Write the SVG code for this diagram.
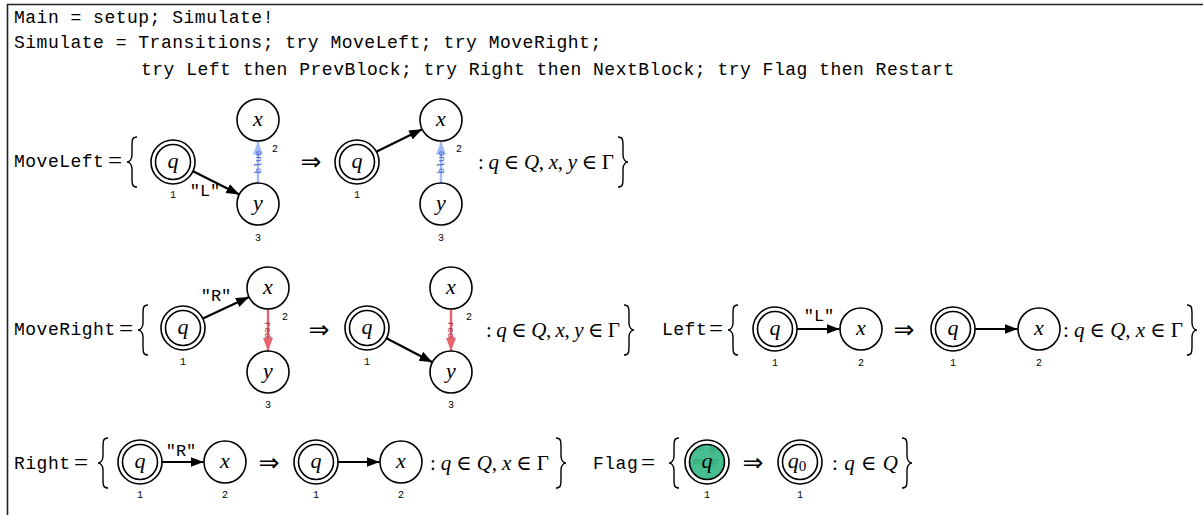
<svg xmlns="http://www.w3.org/2000/svg" width="1203" height="515" viewBox="0 0 1203 515">
<style>
.mono{font-family:"Liberation Mono",monospace;font-size:18px;letter-spacing:0.5px;fill:#000}
.math{font-family:"Liberation Serif","DejaVu Serif",serif;font-size:21px;fill:#000}
.eq{font-family:"Liberation Serif",serif;font-size:25px;fill:#000}
.it{font-style:italic}
.arr{font-family:"DejaVu Sans",sans-serif;font-size:25px;text-anchor:middle}
.nl{font-family:"Liberation Serif",serif;font-style:italic;font-size:22px;text-anchor:middle}
.idx{font-family:"Liberation Mono",monospace;font-size:10px;text-anchor:middle}
.node{fill:#fff;stroke:#000;stroke-width:1.6}
.edge{stroke:#000;stroke-width:2.2;fill:none;marker-end:url(#ah)}
.blue{stroke:#9dbcf8;stroke-width:2.4;fill:none;marker-end:url(#ahb)}
.red{stroke:#e8646f;stroke-width:2.4;fill:none;marker-end:url(#ahr)}
.brace{fill:none;stroke:#000;stroke-width:1.4}
.elab{font-family:"Liberation Mono",monospace;font-size:17px;text-anchor:middle}
.bl{font-family:"Liberation Mono",monospace;font-size:9.5px;fill:#4a62d0;text-anchor:middle}
.rl{font-family:"Liberation Mono",monospace;font-size:9.5px;fill:#a8303e;text-anchor:middle}
</style>
<defs>
<marker id="ah" markerUnits="userSpaceOnUse" markerWidth="14" markerHeight="12" refX="13" refY="5" orient="auto"><path d="M0,0 L13,5 L0,10 z" fill="#000"/></marker>
<marker id="ahb" markerUnits="userSpaceOnUse" markerWidth="14" markerHeight="12" refX="13" refY="5" orient="auto"><path d="M0,0 L13,5 L0,10 z" fill="#9dbcf8"/></marker>
<marker id="ahr" markerUnits="userSpaceOnUse" markerWidth="14" markerHeight="12" refX="13" refY="5" orient="auto"><path d="M0,0 L13,5 L0,10 z" fill="#e8646f"/></marker>
<path id="lb" class="brace" d="M10,-25 C5,-25 5,-22 5,-15 L5,-7 C5,-2 2,0 0,0 C2,0 5,2 5,7 L5,15 C5,22 5,25 10,25"/>
<path id="rb" class="brace" d="M-10,-25 C-5,-25 -5,-22 -5,-15 L-5,-7 C-5,-2 -2,0 0,0 C-2,0 -5,2 -5,7 L-5,15 C-5,22 -5,25 -10,25"/>
<clipPath id="gclip"><circle cx="707" cy="462" r="17"/></clipPath>
</defs>
<rect width="1203" height="515" fill="#fff"/>
<path d="M7.5,515 L7.5,4.5 L1203,4.5" fill="none" stroke="#222" stroke-width="1.6"/>

<g id="program">
<text class="mono" x="14" y="23">Main = setup; Simulate!</text>
<text class="mono" x="14" y="48">Simulate = Transitions; try MoveLeft; try MoveRight;</text>
<text class="mono" x="141" y="75">try Left then PrevBlock; try Right then NextBlock; try Flag then Restart</text>
</g>

<g id="connectors">
<path class="edge" d="M192.6,170.9 L239.3,194.5"/>
<path class="blue" d="M258,183 L258,141.5"/>
<path class="edge" d="M376.8,151.4 L422.1,129.2"/>
<path class="blue" d="M441,183 L441,141.5"/>
<path class="edge" d="M202.9,318.6 L249,296.9"/>
<path class="red" d="M268,309 L268,351"/>
<path class="edge" d="M386.5,338.2 L432.4,362.3"/>
<path class="red" d="M451,309 L451,351"/>
<path class="edge" d="M797,329 L839.5,329"/>
<path class="edge" d="M975,329 L1017.5,329"/>
<path class="edge" d="M162,462 L203.5,462"/>
<path class="edge" d="M338,462 L379.5,462"/>
<text class="elab" x="205" y="196">"L"</text>
<text class="elab" x="216" y="301">"R"</text>
<text class="elab" x="819" y="321">"L"</text>
<text class="elab" x="181" y="456">"R"</text>
<text class="bl" transform="translate(261,162) rotate(-90)">blue</text>
<text class="bl" transform="translate(444,162) rotate(-90)">blue</text>
<text class="rl" transform="translate(265,330) rotate(90)">red</text>
<text class="rl" transform="translate(448,330) rotate(90)">red</text>
</g>

<!-- MoveLeft -->
<g id="moveleft-rule">
<text class="mono" x="14" y="167">MoveLeft</text>
<text class="eq" x="108" y="169">=</text>
<use href="#lb" x="127" y="162"/>
<text class="arr" x="311" y="170">⇒</text>
<text class="math" x="478" y="169" textLength="136" lengthAdjust="spacing">: <tspan class="it">q</tspan> ∈ <tspan class="it">Q</tspan>, <tspan class="it">x</tspan>, <tspan class="it">y</tspan> ∈ Γ</text>
<use href="#rb" x="628" y="162"/>
</g>
<g id="ml-l-q"><circle class="node" cx="173" cy="162" r="22"/><circle class="node" cx="173" cy="162" r="17.5"/><text class="nl" x="173" y="168">q</text><text class="idx" x="173" y="198">1</text></g>
<g id="ml-l-x"><circle class="node" cx="258" cy="120" r="21"/><text class="nl" x="258" y="126">x</text><text class="idx" x="275" y="152">2</text></g>
<g id="ml-l-y"><circle class="node" cx="258" cy="204" r="21"/><text class="nl" x="258" y="210">y</text><text class="idx" x="258" y="241">3</text></g>
<g id="ml-r-q"><circle class="node" cx="357" cy="162" r="22"/><circle class="node" cx="357" cy="162" r="17.5"/><text class="nl" x="357" y="168">q</text><text class="idx" x="357" y="198">1</text></g>
<g id="ml-r-x"><circle class="node" cx="441" cy="120" r="21"/><text class="nl" x="441" y="126">x</text><text class="idx" x="459" y="152">2</text></g>
<g id="ml-r-y"><circle class="node" cx="441" cy="204" r="21"/><text class="nl" x="441" y="210">y</text><text class="idx" x="441" y="241">3</text></g>

<!-- MoveRight -->
<g id="moveright-rule">
<text class="mono" x="14" y="335">MoveRight</text>
<text class="eq" x="119" y="337">=</text>
<use href="#lb" x="138" y="330"/>
<text class="arr" x="319" y="338">⇒</text>
<text class="math" x="486" y="337" textLength="134" lengthAdjust="spacing">: <tspan class="it">q</tspan> ∈ <tspan class="it">Q</tspan>, <tspan class="it">x</tspan>, <tspan class="it">y</tspan> ∈ Γ</text>
<use href="#rb" x="634" y="330"/>
</g>
<g id="mr-l-q"><circle class="node" cx="183" cy="328" r="22"/><circle class="node" cx="183" cy="328" r="17.5"/><text class="nl" x="183" y="334">q</text><text class="idx" x="183" y="365">1</text></g>
<g id="mr-l-x"><circle class="node" cx="268" cy="288" r="21"/><text class="nl" x="268" y="294">x</text><text class="idx" x="285" y="320">2</text></g>
<g id="mr-l-y"><circle class="node" cx="268" cy="372" r="21"/><text class="nl" x="268" y="378">y</text><text class="idx" x="268" y="408">3</text></g>
<g id="mr-r-q"><circle class="node" cx="367" cy="328" r="22"/><circle class="node" cx="367" cy="328" r="17.5"/><text class="nl" x="367" y="334">q</text><text class="idx" x="367" y="365">1</text></g>
<g id="mr-r-x"><circle class="node" cx="451" cy="288" r="21"/><text class="nl" x="451" y="294">x</text><text class="idx" x="469" y="320">2</text></g>
<g id="mr-r-y"><circle class="node" cx="451" cy="372" r="21"/><text class="nl" x="451" y="378">y</text><text class="idx" x="451" y="408">3</text></g>

<!-- Left -->
<g id="left-rule">
<text class="mono" x="662" y="335">Left</text>
<text class="eq" x="709" y="337">=</text>
<use href="#lb" x="728" y="330"/>
<text class="arr" x="904" y="338">⇒</text>
<text class="math" x="1063" y="337" textLength="120" lengthAdjust="spacing">: <tspan class="it">q</tspan> ∈ <tspan class="it">Q</tspan>, <tspan class="it">x</tspan> ∈ Γ</text>
<use href="#rb" x="1197" y="330"/>
</g>
<g id="l-l-q"><circle class="node" cx="775" cy="329" r="22"/><circle class="node" cx="775" cy="329" r="17.5"/><text class="nl" x="775" y="335">q</text><text class="idx" x="775" y="366">1</text></g>
<g id="l-l-x"><circle class="node" cx="861" cy="329" r="21"/><text class="nl" x="861" y="335">x</text><text class="idx" x="861" y="366">2</text></g>
<g id="l-r-q"><circle class="node" cx="953" cy="329" r="22"/><circle class="node" cx="953" cy="329" r="17.5"/><text class="nl" x="953" y="335">q</text><text class="idx" x="953" y="366">1</text></g>
<g id="l-r-x"><circle class="node" cx="1039" cy="329" r="21"/><text class="nl" x="1039" y="335">x</text><text class="idx" x="1039" y="366">2</text></g>

<!-- Right -->
<g id="right-rule">
<text class="mono" x="14" y="469">Right</text>
<text class="eq" x="74" y="471">=</text>
<use href="#lb" x="98" y="463"/>
<text class="arr" x="269" y="471">⇒</text>
<text class="math" x="430" y="470" textLength="119" lengthAdjust="spacing">: <tspan class="it">q</tspan> ∈ <tspan class="it">Q</tspan>, <tspan class="it">x</tspan> ∈ Γ</text>
<use href="#rb" x="566" y="463"/>
</g>
<g id="r-l-q"><circle class="node" cx="140" cy="462" r="22"/><circle class="node" cx="140" cy="462" r="17.5"/><text class="nl" x="140" y="468">q</text><text class="idx" x="140" y="498">1</text></g>
<g id="r-l-x"><circle class="node" cx="225" cy="462" r="21"/><text class="nl" x="225" y="468">x</text><text class="idx" x="225" y="498">2</text></g>
<g id="r-r-q"><circle class="node" cx="316" cy="462" r="22"/><circle class="node" cx="316" cy="462" r="17.5"/><text class="nl" x="316" y="468">q</text><text class="idx" x="316" y="498">1</text></g>
<g id="r-r-x"><circle class="node" cx="401" cy="462" r="21"/><text class="nl" x="401" y="468">x</text><text class="idx" x="401" y="498">2</text></g>

<!-- Flag -->
<g id="flag-rule">
<text class="mono" x="593" y="469">Flag</text>
<text class="eq" x="641" y="471">=</text>
<use href="#lb" x="669" y="463"/>
<text class="arr" x="753" y="471">⇒</text>
<text class="math" x="832" y="470" textLength="66" lengthAdjust="spacing">: <tspan class="it">q</tspan> ∈ <tspan class="it">Q</tspan></text>
<use href="#rb" x="912" y="463"/>
</g>
<g id="f-l-q"><circle class="node" cx="707" cy="462" r="22"/><circle cx="707" cy="462" r="17.5" fill="#46be8f" stroke="#000" stroke-width="1.6"/>
<g clip-path="url(#gclip)" font-family="Liberation Mono,monospace" font-size="9" fill="#33a070"><text x="693" y="451">en gr</text><text x="693" y="464">en gr</text></g>
<text class="nl" x="707" y="468">q</text><text class="idx" x="707" y="498">1</text></g>
<g id="f-r-q"><circle class="node" cx="800" cy="462" r="22"/><circle class="node" cx="800" cy="462" r="17.5"/><text class="nl" x="797" y="468">q<tspan font-style="normal" font-size="15" dy="3">0</tspan></text><text class="idx" x="800" y="498">1</text></g>
</svg>
